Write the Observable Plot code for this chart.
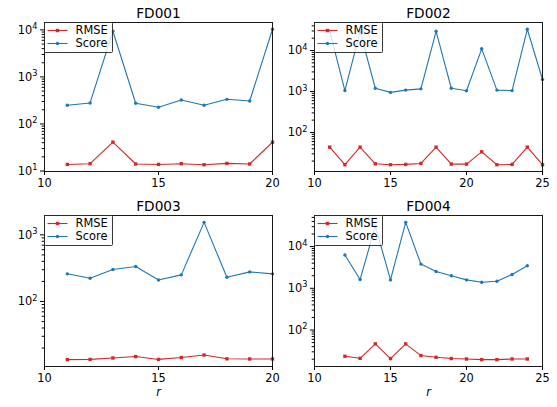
<!DOCTYPE html>
<html><head><meta charset="utf-8">
<script src="https://cdn.jsdelivr.net/npm/d3@7"></script>
<script src="https://cdn.jsdelivr.net/npm/@observablehq/plot@0.6"></script>
<style>
body{margin:0;background:#fff;}
#fig{position:relative;width:557px;height:407px;font-family:"DejaVu Sans",sans-serif;}
#fig svg{position:absolute;overflow:visible;}
</style></head><body><div id="fig"></div>
<script>
// ---- data ----
const titles = ["FD001", "FD002", "FD003", "FD004"];
const seriesNames = ["RMSE", "Score"];
const seriesColors = ["#d62728", "#1f77b4"];

const r1 = [11, 12, 13, 14, 15, 16, 17, 18, 19, 20];
const rmse1 = [13.8, 14.3, 41.1, 14.1, 13.8, 14.3, 13.6, 14.5, 14.1, 41.0];
const score1 = [250, 280, 9350, 276, 226, 324, 250, 334, 308, 10300];

const r2 = [11, 12, 13, 14, 15, 16, 17, 18, 19, 20, 21, 22, 23, 24, 25];
const rmse2 = [43.8, 16.3, 43.8, 17.2, 16.3, 16.6, 17.5, 43.8, 16.9, 16.9, 33.7, 16.3, 16.6, 43.8, 16.3];
const score2 = [30000, 1050, 29000, 1200, 950, 1080, 1160, 29500, 1200, 1040, 11000, 1080, 1050, 33000, 1960];

const r3 = [11, 12, 13, 14, 15, 16, 17, 18, 19, 20];
const rmse3 = [13.4, 13.5, 14.2, 14.9, 13.5, 14.4, 15.7, 13.8, 13.7, 13.7];
const score3 = [260, 223, 302, 335, 210, 251, 1540, 231, 278, 260];

const r4 = [12, 13, 14, 15, 16, 17, 18, 19, 20, 21, 22, 23, 24];
const rmse4 = [23.5, 21.0, 46.6, 20.7, 46.6, 24.4, 22.2, 20.7, 20.2, 19.5, 19.5, 20.2, 20.2];
const score4 = [6280, 1620, 31000, 1590, 38000, 3800, 2530, 1990, 1590, 1400, 1480, 2140, 3470];

const xDomains = [[10, 20], [10, 25], [10, 20], [10, 25]];
const xTicks = [[10, 15, 20], [10, 15, 20, 25], [10, 15, 20], [10, 15, 20, 25]];
const yTickValues = [10, 100, 1000, 10000];
const yTickBase = "10";
const yTickExponents = ["1", "2", "3", "4"];
const xLabel = "r";

// ---- layout ----
const panels = [
  {left: 0,   top: 0,   width: 278, height: 195, mL: 44, mR: 6,  mT: 22, mB: 24, xlab: false},
  {left: 278, top: 0,   width: 279, height: 195, mL: 36, mR: 15, mT: 22, mB: 24, xlab: false},
  {left: 0,   top: 193, width: 278, height: 214, mL: 44, mR: 6,  mT: 22, mB: 41, xlab: true},
  {left: 278, top: 193, width: 279, height: 214, mL: 36, mR: 15, mT: 22, mB: 41, xlab: true}
];
const rs = [r1, r2, r3, r4];
const rmses = [rmse1, rmse2, rmse3, rmse4];
const scores = [score1, score2, score3, score4];
const expMap = new Map(yTickValues.map((v, i) => [v, yTickExponents[i]]));
const fig = document.getElementById("fig");
const FS = 11.4;
const FONT = "'DejaVu Sans', sans-serif";

panels.forEach((p, k) => {
  const data = rs[k].map((r, i) => ({r, rmse: rmses[k][i], score: scores[k][i]}));
  const all = rmses[k].concat(scores[k]);
  const lo = Math.log10(d3.min(all)), hi = Math.log10(d3.max(all));
  const m = (hi - lo) * 0.05;
  const yDomain = [10 ** (lo - m), 10 ** (hi + m)];
  const major = yTickValues.filter(v => v >= yDomain[0] * 0.999 && v <= yDomain[1]);
  const minor = [];
  for (let e = Math.floor(lo - m); e <= Math.ceil(hi + m); e++)
    for (let j = 2; j <= 9; j++) {
      const v = j * 10 ** e;
      if (v >= yDomain[0] && v <= yDomain[1]) minor.push(v);
    }
  const marks = [
    Plot.axisX({ticks: xTicks[k], tickSize: 4, tickPadding: 3, label: null, fontSize: FS}),
    Plot.axisY({ticks: major, tickFormat: d => yTickBase + "^" + expMap.get(d), tickSize: 4, tickPadding: 3, label: null, fontSize: FS}),
    Plot.axisY({ticks: minor, tickFormat: () => "", tickSize: 2.3, label: null}),
    Plot.line(data, {x: "r", y: "score", stroke: seriesColors[1], strokeWidth: 1.1}),
    Plot.dot(data, {x: "r", y: "score", symbol: "circle", r: 1.7, fill: seriesColors[1], stroke: "none"}),
    Plot.line(data, {x: "r", y: "rmse", stroke: seriesColors[0], strokeWidth: 1.1}),
    Plot.dot(data, {x: "r", y: "rmse", symbol: "square", r: 1.9, fill: seriesColors[0], stroke: "none"}),
    Plot.frame({stroke: "black", strokeWidth: 0.9}),
    Plot.text([titles[k]], {frameAnchor: "top", dy: -14, fontSize: 13.7, fontWeight: "normal", fill: "black"})
  ];
  if (p.xlab) marks.push(Plot.text([xLabel], {frameAnchor: "bottom", dy: 29, fontSize: FS, fontStyle: "italic", fill: "black"}));
  const svg = Plot.plot({
    width: p.width, height: p.height,
    marginLeft: p.mL, marginRight: p.mR, marginTop: p.mT, marginBottom: p.mB,
    x: {domain: xDomains[k]},
    y: {type: "log", domain: yDomain},
    style: {fontFamily: FONT, fontSize: FS + "px", color: "black", background: "transparent", overflow: "visible"},
    marks
  });
  svg.style.left = p.left + "px";
  svg.style.top = p.top + "px";
  fig.appendChild(svg);

  // render "10^e" tick labels with a real superscript
  d3.select(svg).selectAll("text").each(function() {
    const t = this.textContent;
    const mm = /^(\d+)\^(\d+)$/.exec(t);
    if (!mm) return;
    const sel = d3.select(this);
    sel.text(null);
    sel.append("tspan").text(mm[1]);
    sel.append("tspan").attr("font-size", 8.2).attr("dy", "-0.55em").text(mm[2]);
  });

  // legend (upper left inside the frame)
  const g = d3.select(svg).append("g").attr("transform", `translate(${p.mL + 0.5},${p.mT + 0.5})`);
  g.append("rect").attr("x", 0).attr("y", 0).attr("width", 68).attr("height", 30).attr("rx", 1)
    .attr("fill", "white").attr("fill-opacity", 0.8).attr("stroke", "#222").attr("stroke-width", 0.9);
  seriesNames.forEach((name, i) => {
    const y = 8 + i * 13;
    g.append("line").attr("x1", 3).attr("x2", 23).attr("y1", y).attr("y2", y)
      .attr("stroke", seriesColors[i]).attr("stroke-width", 1.1);
    if (i === 0) g.append("rect").attr("x", 13 - 1.7).attr("y", y - 1.7).attr("width", 3.4).attr("height", 3.4).attr("fill", seriesColors[i]);
    else g.append("circle").attr("cx", 13).attr("cy", y).attr("r", 1.7).attr("fill", seriesColors[i]);
    g.append("text").attr("x", 31).attr("y", y).attr("dy", "0.35em").attr("font-size", FS)
      .attr("text-anchor", "start").attr("font-family", FONT).attr("fill", "black").text(name);
  });
});
</script></body></html>
